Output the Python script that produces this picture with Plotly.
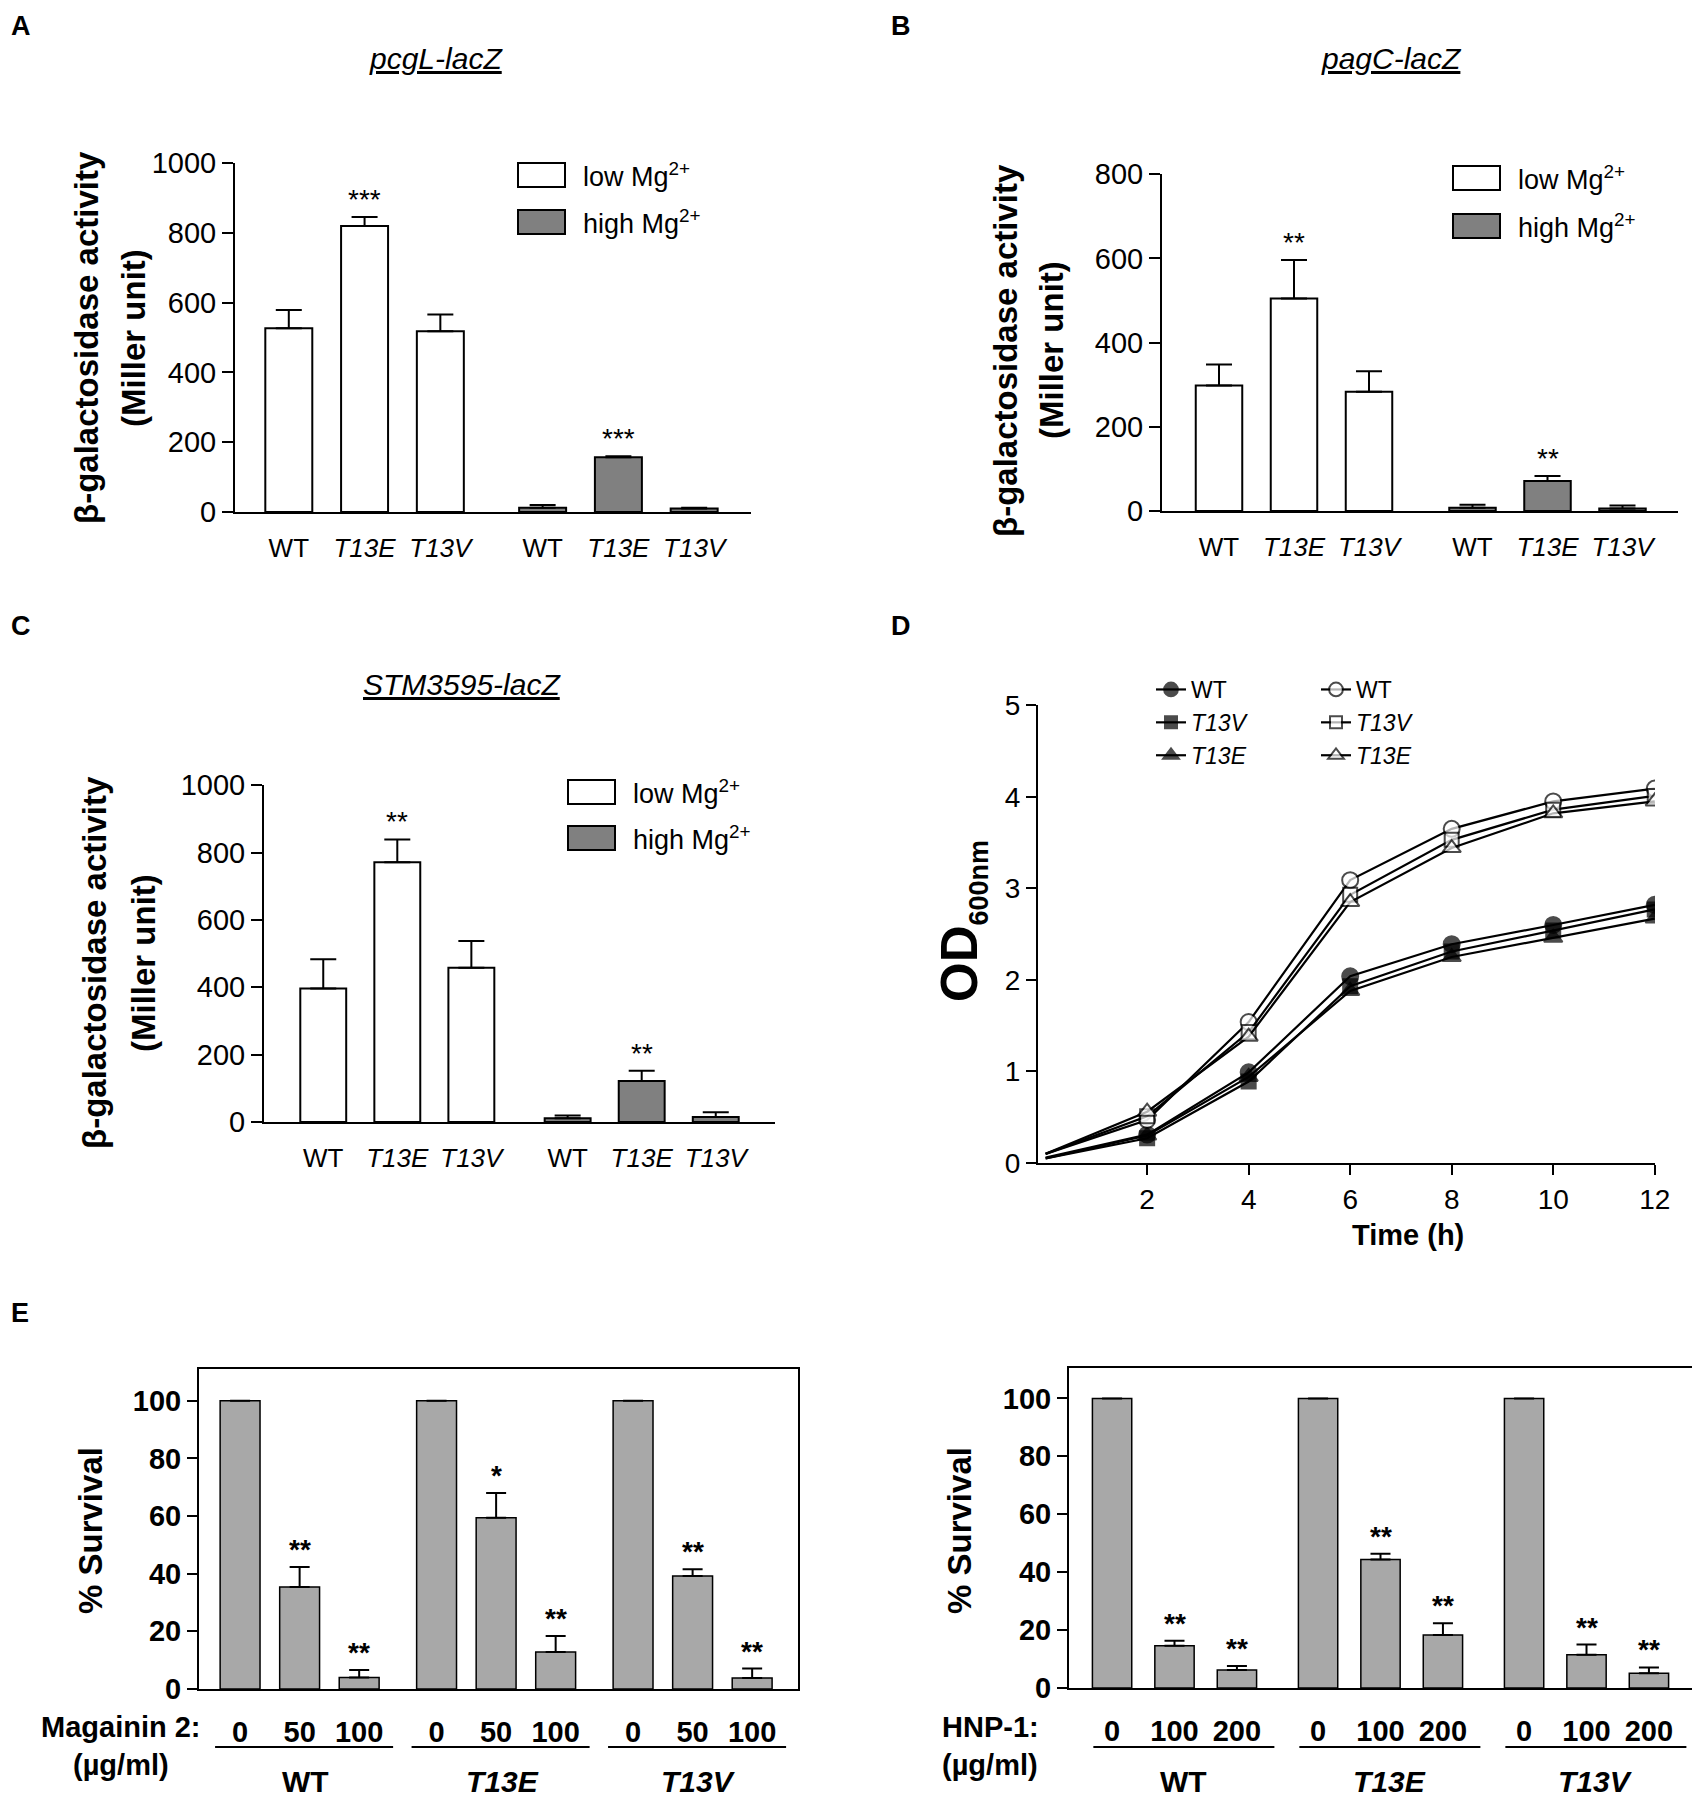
import plotly.graph_objects as go

W, H = 1700, 1797
FONT = "Liberation Sans, Arial, Helvetica, sans-serif"
# the page body adds an 8px margin, so positions are shifted back by that much
OFF = 8

# strains on the x axis of A-C
strain_labels = ["WT", "<i>T13E</i>", "<i>T13V</i>"]

# A: pcgL-lacZ, Miller units
pcgl_low = [527, 820, 518]
pcgl_low_err = [52, 26, 48]
pcgl_high = [12, 157, 10]
pcgl_high_err = [8, 3, 2]
pcgl_stars = ["", "***", ""]

# B: pagC-lacZ
pagc_low = [298, 505, 283]
pagc_low_err = [50, 91, 49]
pagc_high = [8, 71, 6]
pagc_high_err = [7, 12, 7]
pagc_stars = ["", "**", ""]

# C: STM3595-lacZ
stm_low = [396, 771, 458]
stm_low_err = [87, 68, 79]
stm_high = [11, 122, 15]
stm_high_err = [8, 30, 14]
stm_stars = ["", "**", ""]

# D: growth curves, OD600
time_h = [0, 2, 4, 6, 8, 10, 12]
od_wt_filled = [0.06, 0.31, 0.99, 2.04, 2.39, 2.60, 2.82]
od_t13v_filled = [0.05, 0.27, 0.89, 1.93, 2.31, 2.54, 2.77]
od_t13e_filled = [0.05, 0.30, 0.94, 1.88, 2.25, 2.46, 2.67]
od_wt_open = [0.10, 0.47, 1.54, 3.09, 3.65, 3.95, 4.09]
od_t13v_open = [0.10, 0.51, 1.43, 2.93, 3.53, 3.86, 4.01]
od_t13e_open = [0.10, 0.56, 1.38, 2.85, 3.44, 3.82, 3.95]

# E: % survival, groups WT / T13E / T13V, three doses each
groups = ["<b>WT</b>", "<b><i>T13E</i></b>", "<b><i>T13V</i></b>"]
mag_doses = ["0", "50", "100"]
mag_surv = [100, 35.4, 4.0, 100, 59.4, 12.8, 100, 39.2, 3.8]
mag_err = [0, 6.9, 2.6, 0, 8.6, 5.6, 0, 2.3, 3.3]
mag_stars = ["", "**", "**", "", "*", "**", "", "**", "**"]
hnp_doses = ["0", "100", "200"]
hnp_surv = [100, 14.6, 6.2, 100, 44.4, 18.3, 100, 11.5, 5.1]
hnp_err = [0, 1.7, 1.4, 0, 2.0, 4.1, 0, 3.5, 2.0]
hnp_stars = ["", "**", "**", "", "**", "**", "", "**", "**"]


def px(x):
    return (x - OFF) / W


def py(y):
    return 1 - (y - OFF) / H


fig = go.Figure()
ann = []
shapes = []
axes = {}


def txt(x, y, text, size, **kw):
    d = dict(x=px(x), y=py(y), xref="paper", yref="paper", text=text, showarrow=False,
             xanchor="center", yanchor="middle",
             font=dict(family=FONT, size=size, color="black"))
    d.update(kw)
    ann.append(d)


def lacz_panel(n, low, low_err, high, high_err, stars, gap, ymax, dtick,
               xdom, ydom, xr, title, title_x, title_y, yt_x, yt_y, box):
    xa, ya = "x%d" % n, "y%d" % n
    xs_low = list(range(3))
    xs_high = [i + gap for i in range(3)]
    for xs, vals, errs, col in [(xs_low, low, low_err, "white"), (xs_high, high, high_err, "#808080")]:
        fig.add_trace(go.Bar(
            x=xs, y=vals, width=0.62, xaxis=xa, yaxis=ya, showlegend=False,
            marker=dict(color=col, line=dict(color="black", width=2)),
            error_y=dict(type="data", symmetric=False, array=errs, arrayminus=[0] * 3,
                         color="black", thickness=2, width=13)))
        for x, v, e, s in zip(xs, vals, errs, stars):
            if s:
                ann.append(dict(x=x, y=v + e, xref=xa, yref=ya, text=s, showarrow=False,
                                xanchor="center", yanchor="bottom", yshift=0,
                                font=dict(family=FONT, size=28, color="black")))
    axes["xaxis%d" % n] = dict(
        domain=[px(xdom[0]), px(xdom[1])], range=xr, anchor=ya, showline=True,
        linecolor="black", linewidth=2, showgrid=False, zeroline=False, automargin=False,
        tickvals=xs_low + xs_high, ticktext=strain_labels * 2, ticks="outside",
        ticklen=12, tickcolor="rgba(0,0,0,0)", tickfont=dict(family=FONT, size=26, color="black"))
    axes["yaxis%d" % n] = dict(
        domain=[py(ydom[1]), py(ydom[0])], range=[0, ymax * 1.0005], dtick=dtick, anchor=xa,
        showline=True, linecolor="black", linewidth=2, showgrid=False, zeroline=False,
        automargin=False, ticks="outside", ticklen=11, tickwidth=2, tickcolor="black",
        tickfont=dict(family=FONT, size=29, color="black"))
    txt(title_x, title_y, "<i><u>%s</u></i>" % title, 30)
    txt(yt_x[0], yt_y, "<b>\u03b2-galactosidase activity</b>", 33, textangle=-90)
    txt(yt_x[1], yt_y, "<b>(Miller unit)</b>", 33, textangle=-90)
    bx, by0, by1 = box
    for top, col, lab in [(by0, "white", "low Mg<sup>2+</sup>"), (by1, "#808080", "high Mg<sup>2+</sup>")]:
        shapes.append(dict(type="rect", xref="paper", yref="paper", x0=px(bx), x1=px(bx + 47),
                           y0=py(top), y1=py(top + 24), fillcolor=col,
                           line=dict(color="black", width=2)))
        txt(bx + 63, top + 12, lab, 27, xanchor="left")


lacz_panel(1, pcgl_low, pcgl_low_err, pcgl_high, pcgl_high_err, pcgl_stars, 3.35, 1000, 200,
           (235, 751), (163, 512), [-0.71, 6.1], "pcgL-lacZ", 436, 58, (87, 134), 338,
           (518, 163, 210))
lacz_panel(2, pagc_low, pagc_low_err, pagc_high, pagc_high_err, pagc_stars, 3.38, 800, 200,
           (1162, 1678), (174, 511), [-0.76, 6.12], "pagC-lacZ", 1391, 58, (1005, 1051), 350,
           (1453, 166, 214))
lacz_panel(3, stm_low, stm_low_err, stm_high, stm_high_err, stm_stars, 3.3, 1000, 200,
           (264, 775), (785, 1122), [-0.8, 6.1], "STM3595-lacZ", 462, 684, (95, 144), 963,
           (568, 780, 826))

# D growth curves
od_series = [
    ("WT", od_wt_filled, "circle", "black", 16, "legend"),
    ("<i>T13V</i>", od_t13v_filled, "square", "black", 14, "legend"),
    ("<i>T13E</i>", od_t13e_filled, "triangle-up", "black", 16, "legend"),
    ("WT", od_wt_open, "circle", "white", 16, "legend2"),
    ("<i>T13V</i>", od_t13v_open, "square", "white", 14, "legend2"),
    ("<i>T13E</i>", od_t13e_open, "triangle-up", "white", 16, "legend2"),
]
for name, vals, sym, col, size, leg in od_series:
    fig.add_trace(go.Scatter(
        x=time_h, y=vals, name=name, mode="lines+markers", xaxis="x4", yaxis="y4",
        legend=leg, line=dict(color="black", width=2.2),
        marker=dict(symbol=sym, color=col, size=[0] + [size] * (len(vals) - 1),
                    line=dict(color="black", width=2))))

axes["xaxis4"] = dict(
    domain=[px(1038), px(1655)], range=[-0.15, 12.005], anchor="y4", showline=True,
    linecolor="black", linewidth=2, showgrid=False, zeroline=False, automargin=False,
    tickvals=[2, 4, 6, 8, 10, 12], ticks="outside", ticklen=10, tickwidth=2, tickcolor="black",
    tickfont=dict(family=FONT, size=28, color="black"))
axes["yaxis4"] = dict(
    domain=[py(1163), py(705)], range=[0, 5.003], tickvals=[0, 1, 2, 3, 4, 5], anchor="x4",
    showline=True, linecolor="black", linewidth=2, showgrid=False, zeroline=False,
    automargin=False, ticks="outside", ticklen=10, tickwidth=2, tickcolor="black",
    tickfont=dict(family=FONT, size=28, color="black"))
txt(962, 921, "<b>OD<sub><span style='font-size:27px'>600nm</span></sub></b>", 51, textangle=-90)
txt(1408, 1235, "<b>Time (h)</b>", 29)

legend_style = dict(xanchor="left", yanchor="top", bgcolor="rgba(0,0,0,0)", itemwidth=30,
                    tracegroupgap=0, font=dict(family=FONT, size=23, color="black"))


# E survival panels
def survival_panel(n, surv, err, stars, doses, bar_w, ymax, xdom, ydom, dose_name, label_x,
                   line_rel, group_rel, yt_x):
    xa, ya = "x%d" % n, "y%d" % n
    pos = [g * 3.3 + j for g in range(3) for j in range(3)]
    fig.add_trace(go.Bar(
        x=pos, y=surv, width=bar_w, xaxis=xa, yaxis=ya, showlegend=False,
        marker=dict(color="#a8a8a8", line=dict(color="black", width=1.5)),
        error_y=dict(type="data", symmetric=False, array=err, arrayminus=[0] * len(err),
                     color="black", thickness=2, width=10)))
    for x, v, e, s in zip(pos, surv, err, stars):
        if s:
            ann.append(dict(x=x, y=v + e, xref=xa, yref=ya, text="<b>%s</b>" % s, showarrow=False,
                            xanchor="center", yanchor="bottom", yshift=0,
                            font=dict(family=FONT, size=28, color="black")))
    axes["xaxis%d" % n] = dict(
        domain=[px(xdom[0]), px(xdom[1])], range=[-0.69, 9.37], anchor=ya, showline=True,
        mirror=True, linecolor="black", linewidth=2, showgrid=False, zeroline=False,
        automargin=False, tickvals=pos, ticktext=["<b>%s</b>" % d for d in doses * 3],
        ticks="outside", ticklen=16, tickcolor="rgba(0,0,0,0)",
        tickfont=dict(family=FONT, size=29, color="black"))
    axes["yaxis%d" % n] = dict(
        domain=[py(ydom[1]), py(ydom[0])], range=[0, ymax], dtick=20, anchor=xa,
        showline=True, mirror=True, linecolor="black", linewidth=2, showgrid=False,
        zeroline=False, automargin=False, ticks="outside", ticklen=10, tickwidth=2,
        tickcolor="black", tickfont=dict(family=FONT, size=29, color="black", weight="bold"))
    for g in range(3):
        shapes.append(dict(type="line", xref=xa, yref="paper", x0=g * 3.3 + line_rel[0],
                           x1=g * 3.3 + line_rel[1], y0=py(1747), y1=py(1747),
                           line=dict(color="black", width=2)))
        ann.append(dict(x=g * 3.3 + group_rel, y=py(1781), xref=xa, yref="paper", text=groups[g],
                        showarrow=False, xanchor="center", yanchor="middle",
                        font=dict(family=FONT, size=30, color="black")))
    txt(label_x, 1727, "<b>%s</b>" % dose_name, 29)
    txt(label_x, 1765, "<b>(\u00b5g/ml)</b>", 29)
    txt(yt_x, 1531, "<b>% Survival</b>", 33, textangle=-90)


survival_panel(5, mag_surv, mag_err, mag_stars, mag_doses, 0.67, 111, (199, 798), (1369, 1689),
               "Magainin 2:", 121, (-0.42, 2.57), 1.1, 90)
survival_panel(6, hnp_surv, hnp_err, hnp_stars, hnp_doses, 0.63, 110.5, (1069, 1697), (1368, 1688),
               "HNP-1:", 990, (-0.3, 2.6), 1.15, 959)

# panel letters (kept inside the page edge)
for letter, x, y in [("A", 9, 9), ("B", 889, 9), ("C", 9, 609), ("D", 889, 609), ("E", 9, 1296)]:
    txt(x, y, "<b>%s</b>" % letter, 27, xanchor="left", yanchor="top")

axes["xaxis"] = axes.pop("xaxis1")
axes["yaxis"] = axes.pop("yaxis1")
axes["xaxis"]["anchor"] = "y"
axes["yaxis"]["anchor"] = "x"

fig.update_layout(
    width=W, height=H, margin=dict(l=0, r=0, t=0, b=0, autoexpand=False),
    paper_bgcolor="white", plot_bgcolor="white", barmode="overlay",
    font=dict(family=FONT, color="black"),
    legend=dict(x=px(1151), y=py(668), **legend_style),
    legend2=dict(x=px(1316), y=py(668), **legend_style),
    annotations=ann, shapes=shapes, **axes)

fig.write_html("out.html")
